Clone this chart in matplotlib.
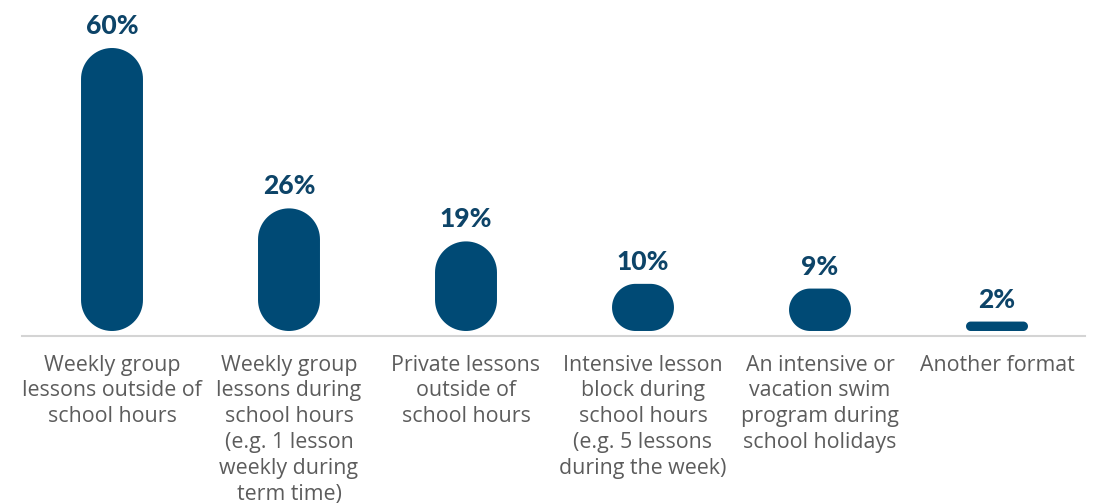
import numpy as np
import matplotlib.pyplot as plt
from matplotlib.patches import Polygon

categories = [
    "Weekly group\nlessons outside of\nschool hours",
    "Weekly group\nlessons during\nschool hours\n(e.g. 1 lesson\nweekly during\nterm time)",
    "Private lessons\noutside of\nschool hours",
    "Intensive lesson\nblock during\nschool hours\n(e.g. 5 lessons\nduring the week)",
    "An intensive or\nvacation swim\nprogram during\nschool holidays",
    "Another format",
]
values = [60, 26, 19, 10, 9, 2]
value_labels = ["60%", "26%", "19%", "10%", "9%", "2%"]

bar_color = "#004a75"
value_color = "#0d4468"
label_color = "#5c5c5c"

W, H = 1106, 504
fig = plt.figure(figsize=(W / 100, H / 100), dpi=100)
ax = fig.add_axes([0, 0, 1, 1])

# pixel layout: bar centres 112 + 177*i, baseline at 331 px from top, 60% -> 48 px
step = 177.0
px_per_unit = (331 - 48) / 60.0
ax.set_xlim(-112 / step, (W - 112) / step)
ax.set_ylim(-(H - 331) / px_per_unit, 331 / px_per_unit)
ax.axis("off")

bar_w = 0.35  # x units (~62 px)


def pill(x, v, w):
    # rounded bar whose corners are circles in pixel space
    w_px = w * step
    h_px = v * px_per_unit
    r_px = min(w_px, h_px) / 2
    rx, ry = r_px / step, r_px / px_per_unit
    t_top = np.linspace(0, np.pi, 40)
    t_bot = np.linspace(np.pi, 2 * np.pi, 40)
    top = np.column_stack([x + (w / 2 - rx) * np.sign(np.cos(t_top)) + rx * np.cos(t_top),
                           v - ry + ry * np.sin(t_top)])
    bot = np.column_stack([x + (w / 2 - rx) * np.sign(np.cos(t_bot)) + rx * np.cos(t_bot),
                           ry + ry * np.sin(t_bot)])
    return Polygon(np.vstack([top, bot]), closed=True, facecolor=bar_color, edgecolor="none")


for i, v in enumerate(values):
    ax.add_patch(pill(i, v, bar_w))
    ax.annotate(value_labels[i], (i, v), xytext=(0, 10), textcoords="offset points",
                ha="center", va="baseline", fontsize=19, fontweight="black",
                color=value_color, family="Lato")
    ax.annotate(categories[i], (i, 0), xytext=(0, -17), textcoords="offset points",
                ha="center", va="top", fontsize=15.4, color=label_color,
                family="Open Sans", linespacing=1.3)

ax.axhline(-4.5 / px_per_unit, xmin=22 / W, xmax=1085 / W, color="#d4d4d4", lw=1.5)

fig.savefig("out.png", dpi=100)
